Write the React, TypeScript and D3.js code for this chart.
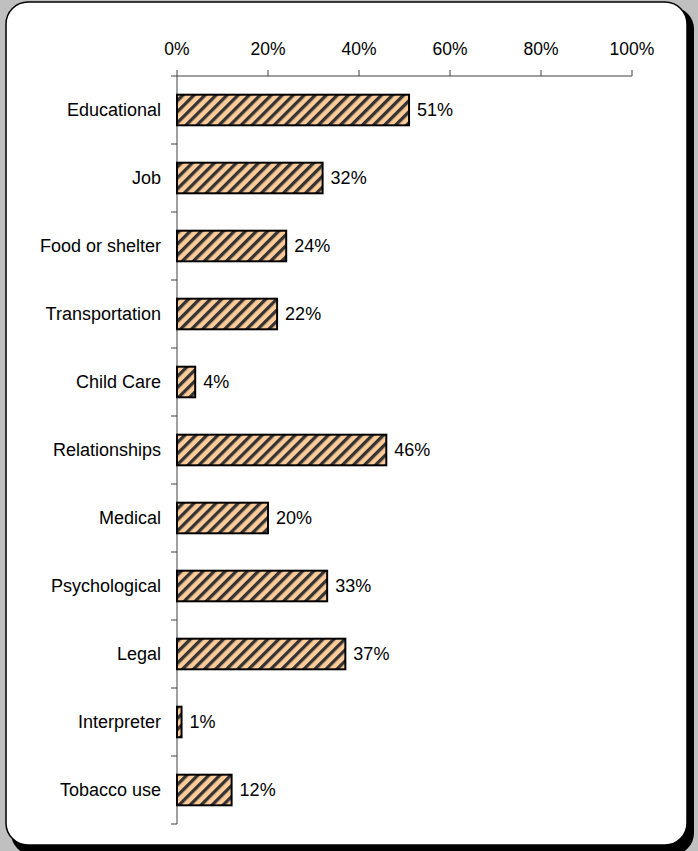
import React from "react";
import * as d3 from "d3";

const categories = [
  "Educational",
  "Job",
  "Food or shelter",
  "Transportation",
  "Child Care",
  "Relationships",
  "Medical",
  "Psychological",
  "Legal",
  "Interpreter",
  "Tobacco use",
];
const values = [51, 32, 24, 22, 4, 46, 20, 33, 37, 1, 12];
const xTicks = [0, 20, 40, 60, 80, 100];

export default function App() {
  const W = 698;
  const H = 851;
  const left = 177;
  const right = 632;
  const top = 76;
  const bottom = 824;
  const x = d3.scaleLinear().domain([0, 100]).range([left, right]);
  const y = d3.scaleBand().domain(categories).range([top, bottom]).paddingInner(0.55).paddingOuter(0.275);
  const band = (bottom - top) / categories.length;
  const font = "Liberation Sans, Arial, sans-serif";
  const axisColor = "#404040";
  return (
    <svg width={W} height={H} style={{ position: "absolute", left: 0, top: 0, display: "block" }}>
      <defs>
        <pattern id="hatch" patternUnits="userSpaceOnUse" width="7.8" height="7.8" patternTransform="rotate(45)">
          <rect width="7.8" height="7.8" fill="#FFCC99" />
          <rect x="0" y="0" width="3.3" height="7.8" fill="#333333" />
        </pattern>
      </defs>
      <rect x={0} y={0} width={W} height={H} fill="#c0c0c0" />
      <rect x={11} y={7} width={683} height={848} rx={22} fill="#000" />
      <rect x={6} y={2} width={681} height={843} rx={22} fill="#fff" stroke="#000" strokeWidth={1.5} />
      {/* x axis */}
      <line x1={left} x2={right} y1={top} y2={top} stroke={axisColor} strokeWidth={1} />
      {xTicks.map((t) => (
        <g key={t}>
          <line x1={x(t)} x2={x(t)} y1={top - 6} y2={top} stroke={axisColor} strokeWidth={1} />
          <text x={x(t)} y={55} textAnchor="middle" fontFamily={font} fontSize={17.5} fill="#000">
            {t}%
          </text>
        </g>
      ))}
      {/* y axis */}
      <line x1={left} x2={left} y1={top} y2={bottom} stroke={axisColor} strokeWidth={1} />
      {d3.range(categories.length + 1).map((i) => (
        <line key={i} x1={left - 6} x2={left} y1={top + i * band} y2={top + i * band} stroke={axisColor} strokeWidth={1} />
      ))}
      {categories.map((c, i) => {
        const yy = y(c)!;
        const bh = y.bandwidth();
        return (
          <g key={c}>
            <text x={161} y={yy + bh / 2} dy="0.35em" textAnchor="end" fontFamily={font} fontSize={18} fill="#000">
              {c}
            </text>
            <rect x={x(0)} y={yy} width={x(values[i]) - x(0)} height={bh} fill="url(#hatch)" stroke="#000" strokeWidth={2} />
            <text x={x(values[i]) + 8} y={yy + bh / 2} dy="0.35em" fontFamily={font} fontSize={18} fill="#000">
              {values[i]}%
            </text>
          </g>
        );
      })}
    </svg>
  );
}
